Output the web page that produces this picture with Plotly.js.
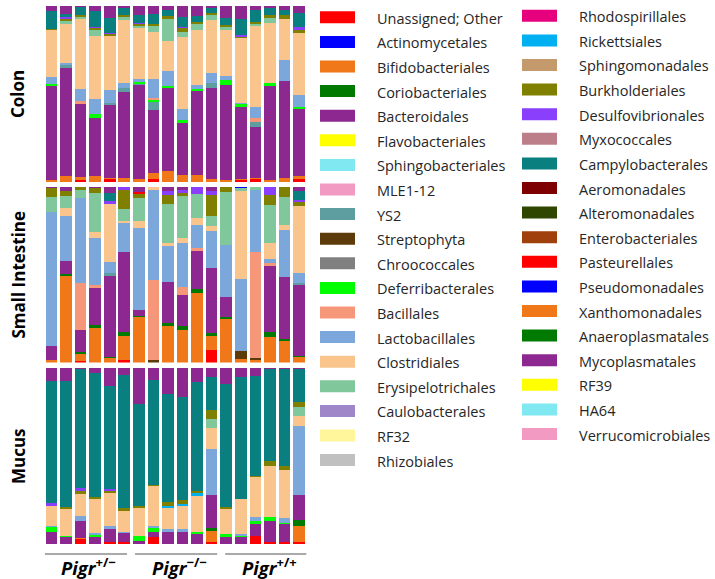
<!DOCTYPE html>
<html>
<head>
<meta charset="utf-8">
<script src="https://cdn.plot.ly/plotly-3.0.1.min.js"></script>
<style>html,body{margin:0;padding:0;background:#fff;}#chart{width:715px;height:579px;}</style>
</head>
<body>
<div id="chart"></div>
<script>
// ---------- DATA ----------
const taxa = ["Unassigned; Other","Actinomycetales","Bifidobacteriales","Coriobacteriales","Bacteroidales","Flavobacteriales","Sphingobacteriales","MLE1-12","YS2","Streptophyta","Chroococcales","Deferribacterales","Bacillales","Lactobacillales","Clostridiales","Erysipelotrichales","Caulobacterales","RF32","Rhizobiales",
  "Rhodospirillales","Rickettsiales","Sphingomonadales","Burkholderiales","Desulfovibrionales","Myxococcales","Campylobacterales","Aeromonadales","Alteromonadales","Enterobacteriales","Pasteurellales","Pseudomonadales","Xanthomonadales","Anaeroplasmatales","Mycoplasmatales","RF39","HA64","Verrucomicrobiales"];
const taxaColors = ["#FF0000","#0000FF","#F07818","#007A00","#8C2890","#FFFF00","#80E8F0","#F29AC2","#5F9EA0","#5C3A0A","#808080","#00FF00","#F7977A","#7BA7DA","#FAC58C","#80C89C","#9E86C8","#FFF59A","#C0C0C0",
  "#E6007E","#00B0F0","#C49A6C","#808000","#8A3FFC","#BC7F8A","#0A7F7F","#7F0000","#2E4600","#A0410D","#FF0000","#0000FF","#F07818","#007A00","#8C2890","#FFFF00","#80E8F0","#F29AC2"];
const legendLeftCount = 19;

const samples = [1,2,3,4,5,6,7,8,9,10,11,12,13,14,15,16,17,18];
const panelNames = ["Colon","Small Intestine","Mucus"];
const groupLabels = ["<i>Pigr</i><sup>+/−</sup>","<i>Pigr</i><sup>−/−</sup>","<i>Pigr</i><sup>+/+</sup>"];

const colon = {
  "Unassigned; Other": [0,0,1.3,0,1.5,0,0,1.9,0,0,0,0,0,1,1.5,0,0,1.9],
  "Bifidobacteriales": [1,3.4,1.5,3.2,1,2.3,1.9,3.2,6,4.2,3.8,1.9,1.3,1,1,1.3,2.5,1.3],
  "Bacteroidales": [53.5,61.5,41.7,33.4,41.2,49,54,35.7,47.4,29.4,47.8,51.2,53.7,40.8,28.8,53,54.8,38.5],
  "YS2": [0,1.5,0,0,1.3,1.9,0.7,4.7,0,0,0,2.8,0,0,3,0,0,0],
  "Deferribacterales": [1.1,0,0,2.3,0,0,0.8,1.3,1,1.9,1,0,2.8,1.9,0,1.5,0,0.6],
  "Bacillales": [0,0,1.3,0,0,0,0,1.1,0,0,0,0,0,0,2.7,0,0,0],
  "Lactobacillales": [4.2,1.3,7.2,8.5,7.2,2.8,1.7,10.6,8.7,5.9,2.5,6,2.3,0.5,6.3,0,12,7],
  "Clostridiales": [26.2,22.4,39.5,35.5,30.7,36,29.4,26.8,17,41.2,31.3,30,26.2,37.4,46,34,23,35],
  "Erysipelotrichales": [0,1.5,1.3,3.4,0,1.5,1.1,3.2,12.3,2.8,3.4,2.8,1.5,0,1.3,2.8,0,0],
  "Burkholderiales": [1.1,1,1,1,1,1.3,1.3,1.1,1.7,1.9,1.3,1,1.3,0.5,1,1.9,2.5,1.9],
  "Desulfovibrionales": [0,1,0,1,1,0,0.5,0,0,1,0,0,0,1.3,0.5,0,0,1.5],
  "Campylobacterales": [10,1.9,4.4,8.9,8.2,3.8,5,5.7,3.4,5.7,3.2,2.8,3.8,8.9,6.6,3.8,2.8,8],
  "Mycoplasmatales": [2.8,4.6,0.8,2.8,7,1.3,5,4.6,2.3,6,5.7,1.3,7,7.6,2.3,1.3,2.3,4.2]
};
const smallIntestine = {
  "Unassigned; Other": [0,0,1.1,0,0,1.5,0,0,0,0,0,7.2,0,0,0,0,0,0],
  "Bifidobacteriales": [1.5,49,3.8,19.9,2.5,13.3,25.8,0,20.5,18.6,39.8,8.1,24.6,1.9,1.5,14.4,12.5,3],
  "Coriobacteriales": [0,1,0.8,1.5,0.6,2.3,0.8,0,1.9,2.3,2.1,1.3,1.1,0,0,2.7,0.8,0.8],
  "Bacteroidales": [8.1,7.8,12.5,20.8,46.2,46,3.4,0,23.1,17.2,21.8,36.9,11.4,0,0,37.9,35.2,40.3],
  "YS2": [0,0,0,0,1.9,0,0,0,0,0,0,0,0,0,0,0,0,1],
  "Streptophyta": [0,0,0,0,0,0,0,1.5,0,0,0,0,0,4.4,0.9,0,0,0],
  "Bacillales": [0,0,26.9,1.9,0,0,0,45.5,0,4.7,1.7,0,0,0,60.6,1.5,0,0],
  "Lactobacillales": [76,25.4,48.3,26.5,6.3,16.1,46.8,51,20.8,25,12.9,21.2,29.4,40.7,35,2.5,26.9,5.7],
  "Clostridiales": [0,4.4,0,3.8,32.8,1,4,1.5,1.5,2.8,3.8,2.5,0,50.2,0,8.9,2.8,37.9],
  "Erysipelotrichales": [8.1,6.6,4.7,22.2,0,7,12.7,0,22.3,24,13.8,6,30.1,1.3,1.5,21.8,15.7,0],
  "Burkholderiales": [5.1,2.8,1.5,2.5,0,11,2.5,0,5.1,1.5,0,11.9,3,0,0,5.7,5.7,2.3],
  "Desulfovibrionales": [0,0,0,0,1.9,1.5,0,0,1.9,1.9,3.8,1.9,0,0,0,4.4,0,1.1],
  "Campylobacterales": [0,0,0,0,4.2,0,0,0,0,0,0,0,0,0,0,0,0,5.1],
  "Pasteurellales": [0,0,0,0,0,0,1,0,0,0,0,0,0,0,0,0,0,0],
  "Pseudomonadales": [0,0,0,0,0,0,0,0,0,0,0,0,0,0.6,0,0,0,0],
  "Mycoplasmatales": [1,2.8,0.4,1,3.8,0.4,3.2,0.4,2.8,1.9,0.4,2.8,0.4,0.4,0.4,0.4,0.4,2.8]
};
const mucus = {
  "Unassigned; Other": [0,0,2.8,0,1.3,0.9,0,3.8,0,0,0,0.9,0,0,4.4,0.9,0.9,0.9],
  "Bifidobacteriales": [0,0,0.6,0,0,0,0,0,0,0,0,6.3,0,0,0,0,0,9.1],
  "Coriobacteriales": [0,0,0,0,0,0,0,0,0,0,0,1.7,0,0,0,0,0,3.8],
  "Bacteroidales": [6.6,3.8,9.9,3.8,7.2,5.3,1.9,3.2,6.6,6.6,5.7,19,3.8,3.8,7,12.3,10.4,14.2],
  "Deferribacterales": [3.2,1,0,1.5,0,0,2.5,2.3,0,0,1.3,0,1.9,1,1.9,1.9,0.9,0],
  "Lactobacillales": [0.5,0,2.8,0.7,1.9,0.7,0,0.7,1.9,1.9,0,25.8,0,0.9,1.9,0,2.8,39.3],
  "Clostridiales": [11.6,15.2,12.3,19.5,18.4,12,16.1,22.8,11.8,13.3,20.5,12.1,14.2,19.9,22.8,29,26.9,5.3],
  "Erysipelotrichales": [0,0,0,0,0,0,0,0,0,0,0,5.3,0,0,0,0,0,5.5],
  "Rickettsiales": [0,0,0,0,0,0,0,0,1.1,0.9,1.3,0,0,0,0,0,0,0],
  "Burkholderiales": [0,0.9,1.9,1.3,1.5,1.5,0.9,0.8,2.7,2.5,1.1,5.1,0.9,0,0.9,3.2,2.1,2.5],
  "Desulfovibrionales": [1.3,0,1.3,0,0.9,0,0,0,0,0,0,0,0,0,0,0,0,0],
  "Campylobacterales": [69.6,71.5,67.6,70.4,58.4,75.7,58.3,59.4,61.3,58.3,62,18.6,70.2,69.3,56.5,51.8,55.4,18.6],
  "Mycoplasmatales": [7.6,7.6,0.8,2.7,10.2,3.8,20.3,7,14.6,16.5,8,5.1,8.9,5.1,4.6,0.8,0.5,0.8]
};

// ---------- BUILD ----------
const W = 715, H = 579;
const px = v => v / W;
const py = v => 1 - v / H;
const panels = [colon, smallIntestine, mucus];
const yaxisIds = ["y","y2","y3"];
const yaxisKeys = ["yaxis","yaxis2","yaxis3"];
const panelPx = [[6,182],[186.5,362.5],[368,544]];

const traces = [];
panels.forEach((panel, p) => {
  taxa.forEach((name, t) => {
    if (!panel[name]) return;
    traces.push({
      type: "bar", name: name, x: samples, y: panel[name],
      xaxis: "x", yaxis: yaxisIds[p],
      marker: {color: taxaColors[t], line: {width: 0}},
      showlegend: false, hoverinfo: "name+y"
    });
  });
});

const layout = {
  width: W, height: H,
  margin: {l: 0, r: 0, t: 0, b: 0},
  paper_bgcolor: "#fff", plot_bgcolor: "#fff",
  barmode: "stack", barnorm: "percent", bargap: 0.2,
  showlegend: false,
  font: {family: "Open Sans, sans-serif", color: "#262626"},
  xaxis: {domain: [px(44.2), px(306.3)], range: [0.5, 18.5], visible: false, anchor: "y3", fixedrange: true},
  shapes: [], annotations: []
};
panelPx.forEach((r, p) => {
  layout[yaxisKeys[p]] = {domain: [py(r[1]), py(r[0])], range: [0, 100], visible: false, anchor: "x", fixedrange: true};
  layout.annotations.push({
    xref: "paper", yref: "paper", x: px(18), y: py((r[0] + r[1]) / 2),
    text: "<b>" + panelNames[p] + "</b>", textangle: -90, showarrow: false,
    font: {size: 17, family: "Open Sans, sans-serif", color: "#000"}, xanchor: "center", yanchor: "middle"
  });
});

// group lines and labels
groupLabels.forEach((lab, g) => {
  const x0 = samples[g * 6] - 0.45 + 0.19 * g;
  const x1 = samples[g * 6 + 5] + 0.19 + 0.19 * g;
  layout.shapes.push({type: "line", xref: "x", yref: "paper",
    x0: x0, x1: x1, y0: py(554), y1: py(554),
    line: {color: "#555", width: 1}});
  layout.annotations.push({xref: "x", yref: "paper", x: (x0 + x1) / 2 + 0.2, y: py(566),
    text: "<b>" + lab + "</b>", showarrow: false, xanchor: "center", yanchor: "middle",
    font: {size: 18.5, family: "Open Sans, sans-serif", color: "#000"}});
});

// legend (two columns) built from taxa
taxa.forEach((name, i) => {
  const left = i < legendLeftCount;
  const row = left ? i : i - legendLeftCount;
  const cy = (left ? 17.3 : 15.8) + row * 24.6;
  const sx = left ? 320 : 522;
  layout.shapes.push({type: "rect", xref: "paper", yref: "paper",
    x0: px(sx), x1: px(sx + 35), y0: py(cy + 6), y1: py(cy - 6),
    fillcolor: taxaColors[i], line: {width: 0}});
  layout.annotations.push({xref: "paper", yref: "paper", x: px(sx + 55), y: py(cy + 1),
    text: name, showarrow: false, xanchor: "left", yanchor: "middle",
    font: {size: 14.5, family: "Open Sans, sans-serif", color: "#262626"}});
});

Plotly.newPlot("chart", traces, layout, {staticPlot: true, displayModeBar: false});
</script>
</body>
</html>
